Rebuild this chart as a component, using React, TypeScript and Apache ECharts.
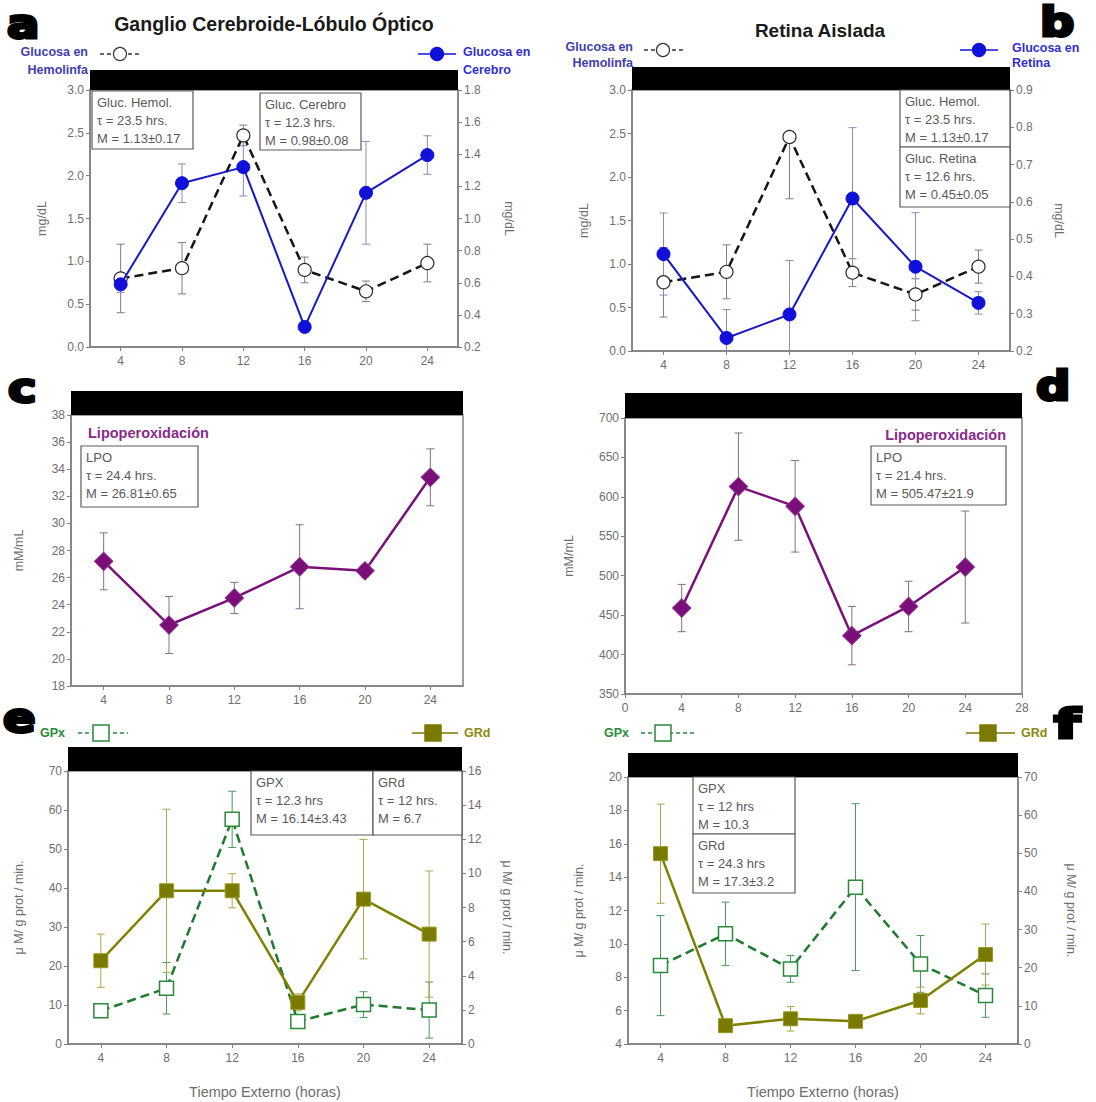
import React, { useEffect, useRef } from "react";
import * as echarts from "echarts";

const FONT = "Liberation Sans";

const hours = [4, 8, 12, 16, 20, 24];

// Panel a: Ganglio Cerebroide-Lóbulo Óptico
const aHemolinfa = [0.8, 0.92, 2.47, 0.9, 0.65, 0.98];
const aHemolinfaErr = [0.4, 0.3, 0.12, 0.15, 0.12, 0.22];
const aCerebro = [0.59, 1.22, 1.32, 0.325, 1.16, 1.395];
const aCerebroErr = [0.05, 0.12, 0.18, 0.03, 0.32, 0.12];

// Panel b: Retina Aislada
const bHemolinfa = [0.79, 0.91, 2.46, 0.9, 0.65, 0.97];
const bHemolinfaErrDown = [0.4, 0.31, 0.71, 0.16, 0.18, 0.19];
const bHemolinfaErrUp = [0.4, 0.31, 0.0, 0.16, 0.18, 0.19];
const bRetina = [0.46, 0.235, 0.298, 0.609, 0.426, 0.329];
const bRetinaErr = [0.11, 0.076, 0.145, 0.19, 0.145, 0.03];

// Panel c / d: Lipoperoxidación
const cLPO = [27.2, 22.5, 24.5, 26.8, 26.5, 33.4];
const cLPOErr = [2.1, 2.1, 1.15, 3.1, 0.45, 2.1];
const dLPO = [459, 613, 588, 424, 461, 511];
const dLPOErr = [30, 68, 58, 37, 32, 71];

// Panel e / f: GPx and GRd
const eGPx = [8.5, 14.3, 57.6, 5.8, 10.1, 8.7];
const eGPxErr = [1.0, 6.6, 7.2, 1.0, 3.3, 7.2];
const eGRd = [4.88, 8.98, 8.98, 2.44, 8.49, 6.44];
const eGRdErr = [1.56, 4.78, 1.0, 0.5, 3.5, 3.7];
const fGPx = [8.7, 10.6, 8.5, 13.4, 8.8, 6.9];
const fGPxErr = [3.0, 1.9, 0.8, 5.0, 1.7, 1.3];
const fGRd = [49.9, 4.8, 6.6, 5.95, 11.4, 23.45];
const fGRdErr = [13, 1.0, 3.2, 1.0, 3.5, 8];

const AX = "#808080";
const LBL = "#6e6e6e";

function buildOption() {
  const gridBoxes = [
    { left: 90, top: 90, width: 368, height: 257 },
    { left: 632, top: 90, width: 378, height: 261 },
    { left: 71, top: 415, width: 392, height: 271 },
    { left: 625, top: 418, width: 397, height: 276 },
    { left: 68, top: 771, width: 394, height: 273 },
    { left: 628, top: 777, width: 390, height: 267 },
  ];
  const grid = gridBoxes.map((g) => ({
    ...g,
    show: true,
    borderColor: AX,
    borderWidth: 1.5,
    backgroundColor: "transparent",
    containLabel: false,
    outerBoundsMode: "none",
  }));

  const baseAxis = {
    axisLine: { show: true, lineStyle: { color: AX, width: 1.5 } },
    axisTick: { show: true, length: 4, lineStyle: { color: AX } },
    splitLine: { show: false },
  };

  const xAxis = gridBoxes.map((_, i) => {
    if (i === 3) {
      return {
        ...baseAxis,
        type: "value",
        gridIndex: i,
        min: 0,
        max: 28,
        interval: 4,
        axisLabel: { color: LBL, fontSize: 12, fontFamily: FONT, margin: 8 },
      };
    }
    const ax: any = {
      ...baseAxis,
      type: "value",
      gridIndex: i,
      min: 2,
      max: 26,
      axisTick: { ...baseAxis.axisTick, customValues: hours },
      axisLabel: { color: LBL, fontSize: 12, fontFamily: FONT, margin: 8, customValues: hours },
    };
    if (i >= 4) {
      ax.name = "Tiempo Externo (horas)";
      ax.nameLocation = "middle";
      ax.nameGap = 40;
      ax.nameTextStyle = { color: LBL, fontSize: 14.5, fontFamily: FONT };
    }
    return ax;
  });

  const yAx = (
    gridIndex: number,
    position: string,
    min: number,
    max: number,
    interval: number,
    name: string,
    nameGap: number,
    dec: number
  ) => ({
    ...baseAxis,
    type: "value",
    gridIndex,
    position,
    min,
    max,
    interval,
    name,
    nameLocation: "middle",
    nameGap,
    nameRotate: position === "right" ? -90 : 90,
    nameTextStyle: { color: LBL, fontSize: 12.5, fontFamily: FONT },
    axisLabel: {
      color: LBL,
      fontSize: 12,
      fontFamily: FONT,
      margin: 6,
      formatter: (v: number) => (dec > 0 ? v.toFixed(dec) : String(Math.round(v))),
    },
  });

  const yAxis = [
    yAx(0, "left", 0, 3, 0.5, "mg/dL", 42, 1),
    yAx(0, "right", 0.2, 1.8, 0.2, "mg/dL", 44, 1),
    yAx(1, "left", 0, 3, 0.5, "mg/dL", 42, 1),
    yAx(1, "right", 0.2, 0.9, 0.1, "mg/dL", 42, 1),
    yAx(2, "left", 18, 38, 2, "mM/mL", 46, 0),
    yAx(3, "left", 350, 700, 50, "mM/mL", 50, 0),
    yAx(4, "left", 0, 70, 10, "μ M/ g prot / min.", 43, 0),
    yAx(4, "right", 0, 16, 2, "μ M/ g prot / min.", 38, 0),
    yAx(5, "left", 4, 20, 2, "μ M/ g prot / min.", 43, 0),
    yAx(5, "right", 0, 70, 10, "μ M/ g prot / min.", 46, 0),
  ];

  const errRender = (color: string, cap: number) => (params: any, api: any) => {
    const x = api.value(0);
    const v = api.value(3);
    const lo = api.coord([x, api.value(1)]);
    const hi = api.coord([x, api.value(2)]);
    const style = { stroke: color, lineWidth: 1 };
    const children: any[] = [
      { type: "line", shape: { x1: lo[0], y1: lo[1], x2: hi[0], y2: hi[1] }, style },
    ];
    if (api.value(1) < v)
      children.push({ type: "line", shape: { x1: lo[0] - cap, y1: lo[1], x2: lo[0] + cap, y2: lo[1] }, style });
    if (api.value(2) > v)
      children.push({ type: "line", shape: { x1: hi[0] - cap, y1: hi[1], x2: hi[0] + cap, y2: hi[1] }, style });
    return { type: "group", children };
  };

  const errSeries = (
    vals: number[],
    errDown: number[],
    xi: number,
    yi: number,
    color: string,
    errUp: number[] = errDown
  ) => ({
    type: "custom",
    xAxisIndex: xi,
    yAxisIndex: yi,
    clip: true,
    z: 1,
    silent: true,
    renderItem: errRender(color, 4),
    encode: { x: 0, y: [1, 2] },
    data: hours.map((h, i) => [h, vals[i] - errDown[i], vals[i] + errUp[i], vals[i]]),
  });

  const pts = (vals: number[]) => hours.map((h, i) => [h, vals[i]]);

  const hemSeries = (vals: number[], xi: number, yi: number) => ({
    type: "line",
    xAxisIndex: xi,
    yAxisIndex: yi,
    data: pts(vals),
    z: 4,
    symbol: "circle",
    symbolSize: 13,
    lineStyle: { color: "#151515", width: 2.5, type: [9, 5] },
    itemStyle: { color: "#ffffff", borderColor: "#2a2a2a", borderWidth: 1.2 },
  });
  const blueSeries = (vals: number[], xi: number, yi: number) => ({
    type: "line",
    xAxisIndex: xi,
    yAxisIndex: yi,
    data: pts(vals),
    z: 5,
    symbol: "circle",
    symbolSize: 13,
    lineStyle: { color: "#1818c8", width: 2 },
    itemStyle: { color: "#1010d8", borderColor: "#1010d8", borderWidth: 1 },
  });
  const lpoSeries = (vals: number[], xi: number, yi: number) => ({
    type: "line",
    xAxisIndex: xi,
    yAxisIndex: yi,
    data: pts(vals),
    z: 4,
    symbol: "rect",
    symbolRotate: 45,
    symbolSize: 13,
    lineStyle: { color: "#7a107a", width: 2.5 },
    itemStyle: { color: "#7a0f7a", borderColor: "#8a2a8a", borderWidth: 1 },
  });
  const gpxSeries = (vals: number[], xi: number, yi: number) => ({
    type: "line",
    xAxisIndex: xi,
    yAxisIndex: yi,
    data: pts(vals),
    z: 4,
    symbol: "rect",
    symbolSize: 14,
    lineStyle: { color: "#1f7a2f", width: 2.5, type: [9, 5] },
    itemStyle: { color: "#ffffff", borderColor: "#2a8a3a", borderWidth: 1.5 },
  });
  const grdSeries = (vals: number[], xi: number, yi: number) => ({
    type: "line",
    xAxisIndex: xi,
    yAxisIndex: yi,
    data: pts(vals),
    z: 5,
    symbol: "rect",
    symbolSize: 14,
    lineStyle: { color: "#808000", width: 2.5 },
    itemStyle: { color: "#7a7a00", borderColor: "#9a9a20", borderWidth: 1 },
  });

  const series = [
    errSeries(aHemolinfa, aHemolinfaErr, 0, 0, "#7a7a98"),
    errSeries(aCerebro, aCerebroErr, 0, 1, "#8a8ab8"),
    hemSeries(aHemolinfa, 0, 0),
    blueSeries(aCerebro, 0, 1),

    errSeries(bHemolinfa, bHemolinfaErrDown, 1, 2, "#7a7a98", bHemolinfaErrUp),
    errSeries(bRetina, bRetinaErr, 1, 3, "#8a8ab8"),
    hemSeries(bHemolinfa, 1, 2),
    blueSeries(bRetina, 1, 3),

    errSeries(cLPO, cLPOErr, 2, 4, "#8a6a8a"),
    lpoSeries(cLPO, 2, 4),

    errSeries(dLPO, dLPOErr, 3, 5, "#8a6a8a"),
    lpoSeries(dLPO, 3, 5),

    errSeries(eGPx, eGPxErr, 4, 6, "#4a9a5a"),
    errSeries(eGRd, eGRdErr, 4, 7, "#a8a850"),
    gpxSeries(eGPx, 4, 6),
    grdSeries(eGRd, 4, 7),

    errSeries(fGPx, fGPxErr, 5, 8, "#4a9a5a"),
    errSeries(fGRd, fGRdErr, 5, 9, "#a8a850"),
    gpxSeries(fGPx, 5, 8),
    grdSeries(fGRd, 5, 9),
  ];

  const els: any[] = [];
  const text = (x: number, y: number, t: string, font: string, fill: string, align = "left") =>
    els.push({
      type: "text",
      x,
      y,
      z: 60,
      style: { text: t, font, fill, align, verticalAlign: "middle" },
    });
  const bar = (x: number, y: number, w: number, h: number) =>
    els.push({ type: "rect", z: 40, shape: { x, y, width: w, height: h }, style: { fill: "#000" } });
  const box = (x: number, y: number, w: number, h: number, lines: string[]) => {
    els.push({
      type: "rect",
      z: 50,
      shape: { x, y, width: w, height: h },
      style: { fill: "#fff", stroke: "#5a5a5a", lineWidth: 1.2 },
    });
    lines.forEach((l, i) =>
      els.push({
        type: "text",
        z: 51,
        x: x + 5,
        y: y + 11 + i * 18,
        style: { text: l, font: `13px ${FONT}`, fill: "#5a5a5a", align: "left", verticalAlign: "middle" },
      })
    );
  };
  const letter = (x: number, y: number, t: string, sx = 1.2) =>
    els.push({
      type: "text",
      x,
      y,
      z: 70,
      scaleX: sx,
      style: {
        text: t,
        font: `bold 40px DejaVu Sans`,
        fill: "#000",
        stroke: "#000",
        lineWidth: 3,
        align: "left",
        verticalAlign: "middle",
      },
    });
  const legCircle = (x1: number, x2: number, cx: number, y: number, dashed: boolean, filled: boolean, color: string) => {
    els.push({
      type: "line",
      z: 60,
      shape: { x1, y1: y, x2, y2: y },
      style: { stroke: color, lineWidth: 1.5, lineDash: dashed ? [4, 3] : null },
    });
    els.push({
      type: "circle",
      z: 61,
      shape: { cx, cy: y, r: 6.5 },
      style: { fill: filled ? color : "#fff", stroke: filled ? color : "#333", lineWidth: 1.2 },
    });
  };
  const legSquare = (x1: number, x2: number, cx: number, y: number, dashed: boolean, filled: boolean, color: string) => {
    els.push({
      type: "line",
      z: 60,
      shape: { x1, y1: y, x2, y2: y },
      style: { stroke: color, lineWidth: 1.5, lineDash: dashed ? [4, 3] : null },
    });
    els.push({
      type: "rect",
      z: 61,
      shape: { x: cx - 8, y: y - 8, width: 16, height: 16 },
      style: { fill: filled ? color : "#fff", stroke: color, lineWidth: 1.5 },
    });
  };

  // Black bars
  bar(90, 70, 368, 20);
  bar(632, 67, 378, 23);
  bar(71, 391, 392, 24);
  bar(625, 393, 397, 25);
  bar(68, 747, 394, 24);
  bar(628, 753, 390, 24);

  // Panel letters
  letter(7, 24, "a");
  letter(1040, 22, "b");
  letter(8, 388, "c");
  letter(1036, 386, "d");
  letter(3, 718, "e");
  letter(1054, 724, "f", 1.5);

  // Titles
  text(274, 24, "Ganglio Cerebroide-Lóbulo Óptico", `bold 19.5px ${FONT}`, "#1a1a1a", "center");
  text(820, 30, "Retina Aislada", `bold 19px ${FONT}`, "#1a1a1a", "center");

  // Legends a
  const LEG = "#4040b0";
  const LF = `bold 12.5px ${FONT}`;
  text(88, 52, "Glucosa en", LF, LEG, "right");
  text(88, 70, "Hemolinfa", LF, LEG, "right");
  legCircle(100, 142, 120, 54, true, false, "#333");
  legCircle(418, 456, 437, 54, false, true, "#1010d8");
  text(463, 52, "Glucosa en", LF, "#3030d0", "left");
  text(463, 70, "Cerebro", LF, "#3030d0", "left");

  // Legends b
  text(633, 47, "Glucosa en", LF, LEG, "right");
  text(633, 63, "Hemolinfa", LF, LEG, "right");
  legCircle(644, 684, 663, 50, true, false, "#333");
  legCircle(960, 998, 979, 50, false, true, "#1010d8");
  text(1012, 48, "Glucosa en", LF, "#3030d0", "left");
  text(1012, 63, "Retina", LF, "#3030d0", "left");

  // Boxes a, b
  box(92, 91, 101, 58, ["Gluc. Hemol.", "τ = 23.5 hrs.", "M = 1.13±0.17"]);
  box(260, 93, 101, 57, ["Gluc. Cerebro", "τ = 12.3 hrs.", "M = 0.98±0.08"]);
  box(900, 90, 110, 57, ["Gluc. Hemol.", "τ = 23.5 hrs.", "M = 1.13±0.17"]);
  box(900, 147, 110, 60, ["Gluc. Retina", "τ = 12.6 hrs.", "M = 0.45±0.05"]);

  // c, d
  const PUR = "#8a2a8a";
  text(88, 433, "Lipoperoxidación", `bold 14.5px ${FONT}`, PUR, "left");
  box(81, 446, 117, 61, ["LPO", "τ = 24.4 hrs.", "M = 26.81±0.65"]);
  text(1006, 435, "Lipoperoxidación", `bold 14.5px ${FONT}`, PUR, "right");
  box(871, 446, 135, 59, ["LPO", "τ = 21.4 hrs.", "M = 505.47±21.9"]);

  // e, f legends and boxes
  const GRN = "#2a8a3a";
  const OLV = "#8a8a10";
  text(40, 733, "GPx", LF, GRN, "left");
  legSquare(78, 128, 101, 733, true, false, GRN);
  legSquare(412, 458, 433, 733, false, true, "#7a7a00");
  text(464, 733, "GRd", LF, OLV, "left");
  box(251, 771, 122, 64, ["GPX", "τ = 12.3 hrs", "M = 16.14±3.43"]);
  box(373, 771, 89, 64, ["GRd", "τ = 12 hrs.", "M = 6.7"]);

  text(604, 733, "GPx", LF, GRN, "left");
  legSquare(641, 697, 663, 733, true, false, GRN);
  legSquare(966, 1015, 988, 733, false, true, "#7a7a00");
  text(1021, 733, "GRd", LF, OLV, "left");
  box(693, 777, 102, 57, ["GPX", "τ = 12 hrs", "M = 10.3"]);
  box(693, 834, 102, 59, ["GRd", "τ = 24.3 hrs", "M = 17.3±3.2"]);

  return {
    animation: false,
    backgroundColor: "#ffffff",
    textStyle: { fontFamily: FONT },
    grid,
    xAxis,
    yAxis,
    series,
    graphic: { elements: els },
  };
}

export default function App() {
  const ref = useRef<HTMLDivElement>(null);
  useEffect(() => {
    const chart = echarts.init(ref.current!, null, { renderer: "svg" });
    chart.setOption(buildOption() as any);
    return () => chart.dispose();
  }, []);
  return (
    <div
      ref={ref}
      style={{ position: "absolute", left: 0, top: 0, width: 1096, height: 1102, background: "#fff" }}
    />
  );
}
